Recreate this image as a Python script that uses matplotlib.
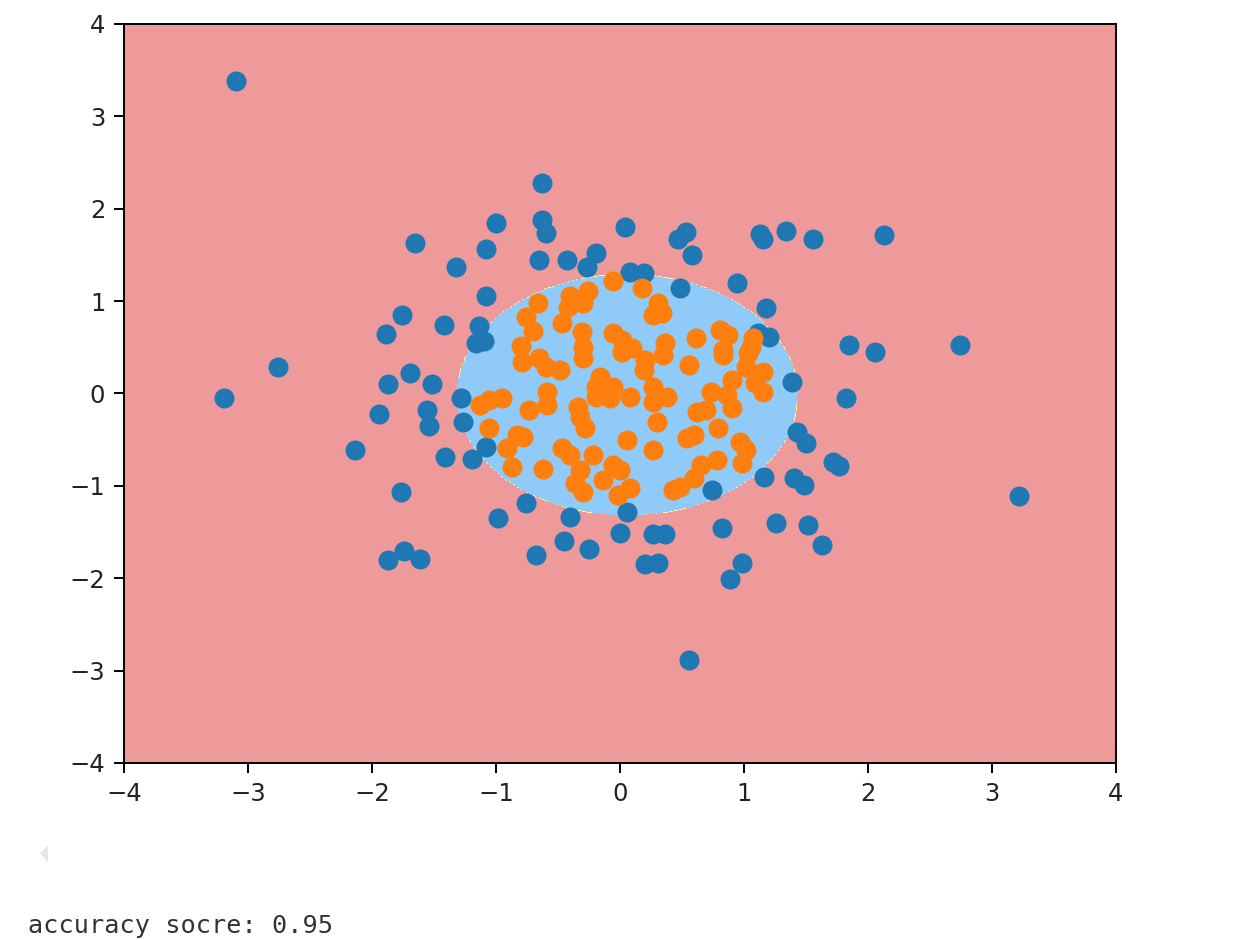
import numpy as np
import matplotlib
matplotlib.use("Agg")
import matplotlib.pyplot as plt
from matplotlib.colors import ListedColormap
from matplotlib.patches import Polygon

# class 0 (outside the boundary)
x0_blue = [-3.10, -0.63, -1.00, -0.63, -0.60, -1.65, -1.08, 0.04, -0.19, -0.43,
           -0.65, -0.27, -1.32, 0.47, 0.53, 0.58, 1.13, 1.15, 1.34, 1.56,
           2.13, 0.08, 0.19, 0.48, 0.94, -1.08, -1.76, -1.42, -1.14, -1.16,
           -1.10, -1.89, 1.18, 1.11, 1.20, 1.85, 2.06, 2.74, -2.76, -1.69,
           -1.87, -1.52, -3.19, -1.28, 1.39, 1.82, -1.56, -1.94, -1.54, -1.27,
           1.43, 1.50, -1.08, -2.14, -1.41, -1.19, 1.40, 1.16, 1.48, 1.72,
           1.77, 0.74, -1.77, 3.22, -0.76, -0.98, -0.40, 0.06, 0.00, 0.82,
           1.26, 1.52, -0.45, -0.68, -0.25, 0.27, 0.36, 0.20, 0.31, -1.74,
           -1.87, -1.61, 0.98, 0.89, 1.63, 0.56]
x1_blue = [3.38, 2.28, 1.85, 1.88, 1.74, 1.63, 1.56, 1.80, 1.52, 1.44,
           1.44, 1.37, 1.37, 1.67, 1.75, 1.50, 1.73, 1.67, 1.76, 1.67,
           1.72, 1.31, 1.30, 1.14, 1.20, 1.06, 0.85, 0.74, 0.73, 0.55,
           0.57, 0.64, 0.93, 0.65, 0.61, 0.53, 0.45, 0.53, 0.29, 0.22,
           0.10, 0.10, -0.05, -0.05, 0.12, -0.05, -0.18, -0.22, -0.35, -0.31,
           -0.42, -0.54, -0.58, -0.61, -0.69, -0.71, -0.91, -0.90, -0.99, -0.74,
           -0.78, -1.04, -1.07, -1.11, -1.19, -1.35, -1.34, -1.28, -1.51, -1.46,
           -1.40, -1.42, -1.60, -1.75, -1.68, -1.52, -1.52, -1.85, -1.83, -1.70,
           -1.80, -1.79, -1.83, -2.01, -1.64, -2.88]

# class 1 (inside the boundary)
x0_orange = [-0.06, -0.26, -0.40, -0.66, -0.42, -0.30, -0.76, -0.47, -0.70, -0.31,
             -0.06, 0.02, -0.80, -0.30, 0.02, -0.79, -0.65, -0.60, -0.48, -0.30,
             -0.16, -0.19, -0.06, -0.59, -1.06, -0.95,
             0.18, 0.31, 0.27, 0.34, 0.81, 0.87, 1.07, 0.61, 1.06, 0.36,
             0.10, 0.83, 0.83, 1.03, 0.35, 0.20, 0.56, 1.02, 1.15, 0.19,
             0.90, 1.09, 1.15, 0.27, 0.73, 0.08, 0.38,
             -1.13, -0.73, -0.59, -0.34, -0.19, -0.08, -1.06, -0.78, -0.83, -0.91,
             -0.87, -0.62, -0.47, -0.40, -0.32, -0.22, -0.28, -0.32, -0.06, 0.00,
             -0.14, -0.36, -0.30, -0.02, 0.06,
             0.27, 0.62, 0.69, 0.86, 0.90, 0.30, 0.79, 0.54, 0.60, 0.27,
             0.97, 1.02, 0.98, 0.78, 0.65, 0.60, 0.48, 0.43, 0.08]
x1_orange = [1.22, 1.11, 1.06, 0.98, 0.94, 0.98, 0.83, 0.76, 0.68, 0.67,
             0.65, 0.58, 0.51, 0.50, 0.45, 0.34, 0.38, 0.29, 0.25, 0.38,
             0.18, 0.07, 0.07, 0.02, -0.07, -0.05,
             1.14, 0.98, 0.85, 0.87, 0.69, 0.63, 0.60, 0.60, 0.50, 0.55,
             0.49, 0.47, 0.42, 0.44, 0.42, 0.36, 0.31, 0.29, 0.23, 0.25,
             0.15, 0.11, 0.02, 0.07, 0.02, -0.04, -0.04,
             -0.12, -0.18, -0.12, -0.15, -0.04, -0.05, -0.37, -0.47, -0.45, -0.59,
             -0.80, -0.82, -0.59, -0.67, -0.83, -0.67, -0.37, -0.25, -0.77, -0.83,
             -0.94, -0.97, -1.07, -1.10, -0.50,
             -0.09, -0.20, -0.18, -0.02, -0.16, -0.31, -0.37, -0.48, -0.45, -0.61,
             -0.52, -0.61, -0.75, -0.72, -0.77, -0.91, -1.01, -1.04, -1.02]

# fitted boundary (ellipse)
center = (0.06, -0.015)
semi_axes = (1.37, 1.30)
axis_range = [-4, 4, -4, 4]


def plot_decision_boundary(axis):
    x0, x1 = np.meshgrid(
        np.linspace(axis[0], axis[1], 800),
        np.linspace(axis[2], axis[3], 800),
    )
    r = ((x0 - center[0]) / semi_axes[0]) ** 2 + ((x1 - center[1]) / semi_axes[1]) ** 2
    zz = (r < 1).astype(int)
    custom_cmap = ListedColormap(['#EF9A9A', '#FFF59D', '#90CAF9'])
    plt.contourf(x0, x1, zz, cmap=custom_cmap)


fig = plt.figure(figsize=(12.5, 9.4), dpi=100)
ax = fig.add_axes([0.0992, 0.1883, 0.7936, 0.7862])
plot_decision_boundary(axis_range)
ax.scatter(x0_blue, x1_blue, s=180, color="#1f77b4", zorder=3)
ax.scatter(x0_orange, x1_orange, s=180, color="#ff7f0e", zorder=4)
ax.set_xlim(-4, 4)
ax.set_ylim(-4, 4)
ax.tick_params(labelsize=17.5, length=7.5, width=1.4, pad=6, labelcolor="#222222")
for s in ax.spines.values():
    s.set_linewidth(1.4)

# notebook collapse arrow
tri = Polygon([[40 / 1250, 1 - 853.5 / 940], [48 / 1250, 1 - 845 / 940], [48 / 1250, 1 - 862 / 940]],
              closed=True, transform=fig.transFigure, facecolor="#e6e6e9", edgecolor="none")
fig.patches.append(tri)
fig.text(0.022, 0.0074, "accuracy socre: 0.95", family="DejaVu Sans Mono",
         fontsize=18.2, color="#333333", ha="left", va="baseline")

plt.savefig("out.png", dpi=100)
plt.close()
